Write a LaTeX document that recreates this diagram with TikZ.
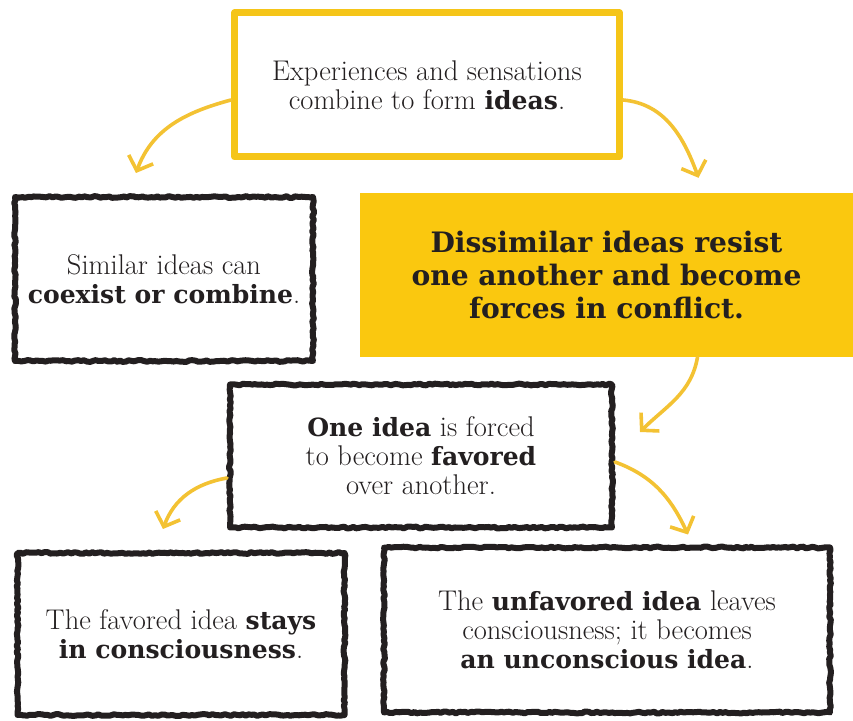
\documentclass[tikz,border=0pt]{standalone}
\usepackage{fontspec}
\usetikzlibrary{arrows.meta, decorations.pathmorphing}
\newfontfamily\slabfont{DejaVu Serif}[Scale=0.88]
\newcommand{\hl}[1]{{\slabfont\bfseries #1}}
\definecolor{ink}{HTML}{231F20}
\definecolor{marker}{HTML}{F5C518}
\definecolor{block}{HTML}{FAC80F}
\definecolor{pen}{HTML}{F3C233}

\begin{document}
\begin{tikzpicture}[
        x=1pt, y=1pt, >={Straight Barb[length=12pt,width=26pt]},
        every node/.style={align=center, inner sep=0pt, text=ink, font=\fontsize{28.5}{29}\selectfont},
        inkbox/.style={draw=ink, line width=6pt, line join=round, decorate,
          decoration={random steps, segment length=3pt, amplitude=0.9pt}},
        flow/.style={->, draw=pen, line width=3.6pt, line cap=round},
        ]
        \pgfmathsetseed{7}
        \useasboundingbox (0,0) rectangle (853,720);

        \node[draw=marker, line width=7pt, line join=round, minimum width=385pt, minimum height=144pt] (idea) at (427,635)
          {Experiences and sensations\\ combine to form \hl{ideas}.};
        \node[inkbox, minimum width=298pt, minimum height=164pt] (similar) at (164,441)
          {Similar ideas can\\ \hl{coexist or combine}.};
        \node[fill=block, minimum width=493pt, minimum height=164pt,
              font=\fontsize{32}{33}\selectfont\slabfont\bfseries] (conflict) at (606.5,445)
          {Dissimilar ideas resist\\ one another and become\\ forces in conflict.};
        \node[inkbox, minimum width=382pt, minimum height=143pt] (favor) at (421,264)
          {\hl{One idea} is forced\\ to become \hl{favored}\\ over another.};
        \node[inkbox, minimum width=327pt, minimum height=162pt] (stay) at (181,86)
          {The favored idea \hl{stays}\\ \hl{in consciousness}.};
        \node[inkbox, minimum width=446pt, minimum height=165pt] (leave) at (607,90)
          {The \hl{unfavored idea} leaves\\ consciousness; it becomes\\ \hl{an unconscious idea}.};

        \draw[flow] ([yshift=-15pt]idea.west) to[out=195, in=70] ([shift={(-28pt,21pt)}]similar.north);
        \draw[flow] ([yshift=-15pt]idea.east) to[out=-5, in=110] ([shift={(92pt,15pt)}]conflict.north);
        \draw[flow] ([xshift=91pt]conflict.south) to[out=260, in=45] ([shift={(25pt,24pt)}]favor.east);
        \draw[flow] ([yshift=-22pt]favor.west) to[out=190, in=70] ([shift={(-18pt,21pt)}]stay.north);
        \draw[flow] ([yshift=-6pt]favor.east) to[out=-20, in=115] ([shift={(81pt,10pt)}]leave.north);
      \end{tikzpicture}
\end{document}
